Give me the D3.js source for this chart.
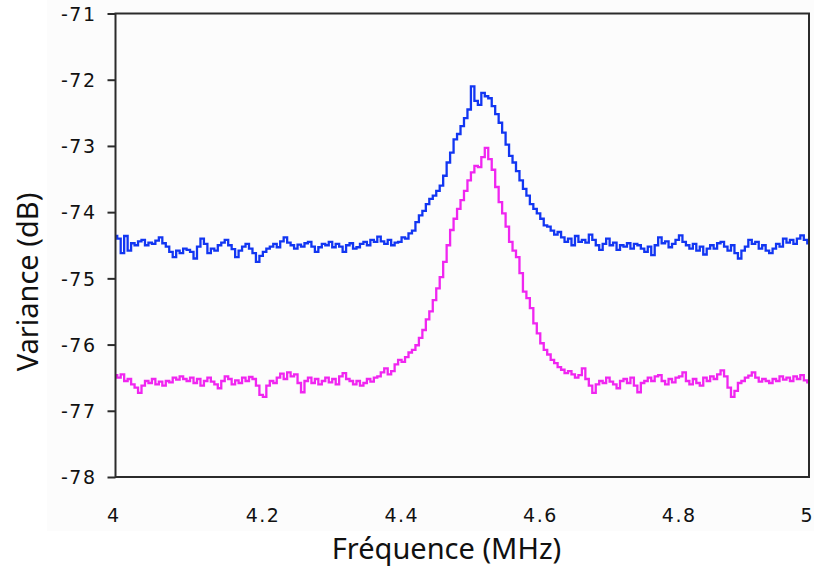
<!DOCTYPE html>
<html>
<head>
<meta charset="utf-8">
<script src="https://cdn.jsdelivr.net/npm/d3@7"></script>
<style>
  html, body { margin: 0; padding: 0; background: #ffffff; }
  svg { display: block; }
</style>
</head>
<body>
<svg id="chart" width="814" height="568"></svg>
<script>
// ---- data ----
const freqStart = 4.0;
const freqStep = 0.005;
const xTicks = [4, 4.2, 4.4, 4.6, 4.8, 5];
const xTickLabels = ["4", "4.2", "4.4", "4.6", "4.8", "5"];
const yTicks = [-71, -72, -73, -74, -75, -76, -77, -78];
const yTickLabels = ["-71", "-72", "-73", "-74", "-75", "-76", "-77", "-78"];
const xTitle = "Fréquence (MHz)";
const yTitle = "Variance (dB)";

const blueValues = [
-74.36,-74.40,-74.62,-74.36,-74.58,-74.47,-74.50,-74.44,-74.42,-74.50,
-74.46,-74.48,-74.43,-74.38,-74.47,-74.52,-74.60,-74.68,-74.58,-74.62,
-74.55,-74.57,-74.60,-74.70,-74.52,-74.40,-74.48,-74.62,-74.55,-74.58,
-74.50,-74.46,-74.42,-74.50,-74.56,-74.68,-74.58,-74.52,-74.48,-74.55,
-74.62,-74.75,-74.66,-74.60,-74.55,-74.52,-74.48,-74.53,-74.44,-74.38,
-74.46,-74.50,-74.55,-74.49,-74.52,-74.47,-74.45,-74.52,-74.60,-74.53,
-74.48,-74.50,-74.45,-74.53,-74.48,-74.52,-74.60,-74.50,-74.47,-74.55,
-74.53,-74.48,-74.45,-74.50,-74.42,-74.45,-74.37,-74.44,-74.48,-74.42,
-74.50,-74.46,-74.45,-74.38,-74.40,-74.32,-74.28,-74.15,-74.05,-73.98,
-73.88,-73.80,-73.75,-73.68,-73.60,-73.45,-73.25,-73.10,-72.90,-72.82,
-72.70,-72.58,-72.45,-72.10,-72.32,-72.38,-72.20,-72.25,-72.28,-72.40,
-72.52,-72.65,-72.80,-72.98,-73.15,-73.25,-73.38,-73.52,-73.65,-73.75,
-73.88,-73.95,-74.02,-74.10,-74.20,-74.22,-74.28,-74.34,-74.30,-74.38,
-74.45,-74.40,-74.50,-74.36,-74.45,-74.42,-74.46,-74.34,-74.42,-74.50,
-74.57,-74.48,-74.40,-74.50,-74.46,-74.57,-74.50,-74.52,-74.47,-74.55,
-74.48,-74.50,-74.55,-74.60,-74.52,-74.65,-74.50,-74.38,-74.47,-74.44,
-74.53,-74.48,-74.42,-74.35,-74.45,-74.50,-74.55,-74.48,-74.58,-74.52,
-74.64,-74.55,-74.50,-74.55,-74.47,-74.45,-74.52,-74.58,-74.50,-74.62,
-74.70,-74.58,-74.52,-74.42,-74.48,-74.45,-74.55,-74.50,-74.58,-74.62,
-74.55,-74.48,-74.52,-74.40,-74.46,-74.42,-74.48,-74.40,-74.35,-74.42,
-74.47
];

const magentaValues = [
-76.46,-76.50,-76.45,-76.55,-76.52,-76.60,-76.65,-76.73,-76.62,-76.55,
-76.58,-76.52,-76.60,-76.56,-76.62,-76.55,-76.57,-76.50,-76.53,-76.48,
-76.52,-76.55,-76.50,-76.58,-76.52,-76.62,-76.55,-76.50,-76.56,-76.60,
-76.66,-76.55,-76.48,-76.52,-76.60,-76.54,-76.58,-76.50,-76.55,-76.49,
-76.52,-76.62,-76.76,-76.79,-76.62,-76.55,-76.58,-76.50,-76.44,-76.52,
-76.42,-76.48,-76.45,-76.58,-76.72,-76.55,-76.50,-76.58,-76.52,-76.60,
-76.55,-76.50,-76.57,-76.52,-76.60,-76.48,-76.43,-76.52,-76.55,-76.60,
-76.55,-76.62,-76.58,-76.52,-76.56,-76.50,-76.48,-76.42,-76.36,-76.45,
-76.40,-76.30,-76.23,-76.26,-76.19,-76.12,-76.08,-76.01,-75.90,-75.78,
-75.62,-75.50,-75.33,-75.15,-74.98,-74.75,-74.50,-74.27,-74.10,-73.95,
-73.82,-73.68,-73.52,-73.40,-73.30,-73.32,-73.17,-73.03,-73.20,-73.36,
-73.62,-73.85,-74.02,-74.22,-74.45,-74.58,-74.68,-74.92,-75.20,-75.30,
-75.45,-75.68,-75.83,-75.98,-76.08,-76.15,-76.23,-76.28,-76.34,-76.38,
-76.43,-76.40,-76.45,-76.50,-76.46,-76.36,-76.52,-76.62,-76.73,-76.60,
-76.55,-76.58,-76.50,-76.56,-76.60,-76.66,-76.55,-76.52,-76.58,-76.50,
-76.62,-76.72,-76.58,-76.55,-76.50,-76.55,-76.48,-76.46,-76.55,-76.60,
-76.52,-76.57,-76.50,-76.48,-76.42,-76.55,-76.60,-76.52,-76.58,-76.62,
-76.50,-76.55,-76.48,-76.52,-76.45,-76.39,-76.48,-76.65,-76.79,-76.70,
-76.58,-76.55,-76.50,-76.47,-76.42,-76.50,-76.56,-76.52,-76.55,-76.58,
-76.52,-76.55,-76.48,-76.53,-76.50,-76.55,-76.48,-76.52,-76.46,-76.54,
-76.57
];

// ---- layout ----
const W = 814, H = 568;
const plot = { left: 115.5, right: 809, top: 13.5, bottom: 477 };

const svg = d3.select("#chart");

// light panel behind the chart
svg.append("rect")
  .attr("x", 47).attr("y", 0).attr("width", W - 47).attr("height", 531)
  .attr("fill", "#fcfcfc");

const x = d3.scaleLinear().domain([4, 5]).range([plot.left, plot.right]);
const y = d3.scaleLinear().domain([-78, -71]).range([plot.bottom, plot.top]);

const blueData = blueValues.map((v, i) => ({ f: freqStart + i * freqStep, v }));
const magentaData = magentaValues.map((v, i) => ({ f: freqStart + i * freqStep, v }));

// clip
svg.append("clipPath").attr("id", "clip")
  .append("rect")
  .attr("x", plot.left).attr("y", plot.top)
  .attr("width", plot.right - plot.left).attr("height", plot.bottom - plot.top);

const line = d3.line()
  .x(d => x(d.f))
  .y(d => y(d.v))
  .curve(d3.curveStep);

const lines = svg.append("g").attr("clip-path", "url(#clip)");
lines.append("path").datum(magentaData)
  .attr("d", line)
  .attr("fill", "none")
  .attr("stroke", "#f026f0")
  .attr("stroke-width", 2.3)
  .attr("stroke-linejoin", "miter");
lines.append("path").datum(blueData)
  .attr("d", line)
  .attr("fill", "none")
  .attr("stroke", "#1236f2")
  .attr("stroke-width", 2.3)
  .attr("stroke-linejoin", "miter");

// y axis
const yAxis = d3.axisLeft(y)
  .tickValues(yTicks)
  .tickFormat((d, i) => yTickLabels[i])
  .tickSize(8)
  .tickSizeOuter(0)
  .tickPadding(11);

const gy = svg.append("g")
  .attr("transform", `translate(${plot.left},0)`)
  .call(yAxis);
gy.select(".domain").remove();
gy.selectAll(".tick line").attr("stroke", "#2b2b2b").attr("stroke-width", 2);
gy.selectAll(".tick text")
  .attr("fill", "#111")
  .style("font-family", "'DejaVu Sans', sans-serif")
  .style("font-size", "19px")
  .style("letter-spacing", "1.5px")
  .attr("dy", "0.36em");

// x axis (labels only)
const xAxis = d3.axisBottom(x)
  .tickValues(xTicks)
  .tickFormat((d, i) => xTickLabels[i])
  .tickSize(0)
  .tickSizeOuter(0);

const gx = svg.append("g")
  .attr("transform", `translate(0,${plot.bottom})`)
  .call(xAxis);
gx.select(".domain").remove();
gx.selectAll(".tick text")
  .attr("fill", "#111")
  .attr("text-anchor", "start")
  .attr("x", -9)
  .attr("y", 45)
  .attr("dy", 0)
  .style("font-family", "'DejaVu Sans', sans-serif")
  .style("font-size", "19px")
  .style("letter-spacing", "1.5px");

// frame
svg.append("rect")
  .attr("x", plot.left).attr("y", plot.top)
  .attr("width", plot.right - plot.left).attr("height", plot.bottom - plot.top)
  .attr("fill", "none")
  .attr("stroke", "#2b2b2b")
  .attr("stroke-width", 2);

// titles
svg.append("text")
  .attr("x", 446.5).attr("y", 559)
  .attr("text-anchor", "middle")
  .attr("fill", "#111")
  .style("font-family", "'Noto Sans', sans-serif")
  .style("font-size", "29px")
  .text(xTitle);

svg.append("text")
  .attr("transform", "translate(38,282) rotate(-90)")
  .attr("text-anchor", "middle")
  .attr("fill", "#111")
  .style("font-family", "'Noto Sans', sans-serif")
  .style("font-size", "29px")
  .text(yTitle);
</script>
</body>
</html>
